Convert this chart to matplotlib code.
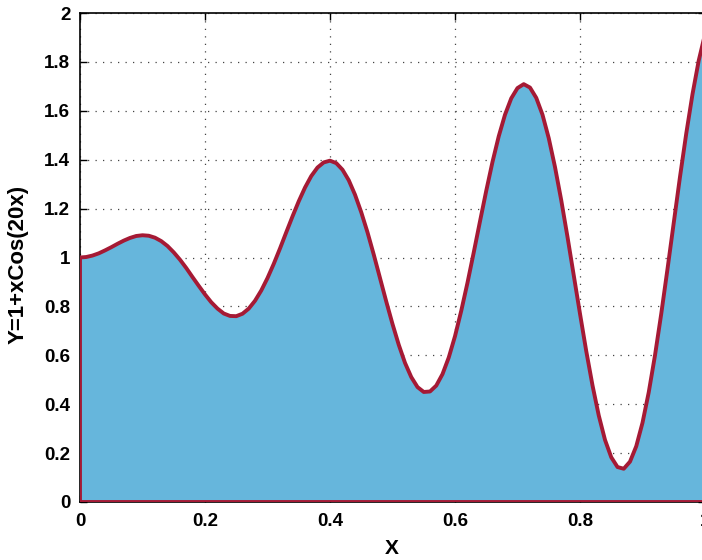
import matplotlib
matplotlib.use("Agg")
import matplotlib.pyplot as plt


# samples, x from 0 to 1
x_vals = [
    0.00, 0.01, 0.02, 0.03, 0.04, 0.05, 0.06, 0.07, 0.08, 0.09,
    0.10, 0.11, 0.12, 0.13, 0.14, 0.15, 0.16, 0.17, 0.18, 0.19,
    0.20, 0.21, 0.22, 0.23, 0.24, 0.25, 0.26, 0.27, 0.28, 0.29,
    0.30, 0.31, 0.32, 0.33, 0.34, 0.35, 0.36, 0.37, 0.38, 0.39,
    0.40, 0.41, 0.42, 0.43, 0.44, 0.45, 0.46, 0.47, 0.48, 0.49,
    0.50, 0.51, 0.52, 0.53, 0.54, 0.55, 0.56, 0.57, 0.58, 0.59,
    0.60, 0.61, 0.62, 0.63, 0.64, 0.65, 0.66, 0.67, 0.68, 0.69,
    0.70, 0.71, 0.72, 0.73, 0.74, 0.75, 0.76, 0.77, 0.78, 0.79,
    0.80, 0.81, 0.82, 0.83, 0.84, 0.85, 0.86, 0.87, 0.88, 0.89,
    0.90, 0.91, 0.92, 0.93, 0.94, 0.95, 0.96, 0.97, 0.98, 0.99,
    1.00,
]
y_vals = [
    1.000, 1.002, 1.008, 1.017, 1.029, 1.042, 1.056, 1.069, 1.080, 1.088,
    1.091, 1.089, 1.081, 1.067, 1.047, 1.021, 0.991, 0.957, 0.920, 0.884,
    0.849, 0.817, 0.791, 0.771, 0.761, 0.760, 0.770, 0.791, 0.823, 0.865,
    0.916, 0.974, 1.037, 1.103, 1.168, 1.230, 1.286, 1.333, 1.368, 1.389,
    1.396, 1.386, 1.359, 1.316, 1.257, 1.185, 1.103, 1.012, 0.916, 0.820,
    0.728, 0.643, 0.569, 0.511, 0.470, 0.450, 0.452, 0.476, 0.523, 0.591,
    0.678, 0.782, 0.897, 1.021, 1.148, 1.273, 1.391, 1.496, 1.584, 1.651,
    1.693, 1.709, 1.695, 1.653, 1.584, 1.488, 1.370, 1.234, 1.084, 0.927,
    0.770, 0.617, 0.477, 0.354, 0.254, 0.183, 0.143, 0.136, 0.165, 0.228,
    0.324, 0.449, 0.600, 0.770, 0.953, 1.142, 1.330, 1.507, 1.668, 1.806,
    1.913,
]
x_ticks = [0, 0.2, 0.4, 0.6, 0.8, 1]
x_labels = ["0", "0.2", "0.4", "0.6", "0.8", "1"]
y_ticks = [0, 0.2, 0.4, 0.6, 0.8, 1, 1.2, 1.4, 1.6, 1.8, 2]
y_labels = ["0", "0.2", "0.4", "0.6", "0.8", "1", "1.2", "1.4", "1.6", "1.8", "2"]

plt.rcParams["font.family"] = ["Liberation Sans", "DejaVu Sans"]
plt.rcParams["font.weight"] = "bold"

fig = plt.figure(figsize=(7.02, 5.6), dpi=100)
ax = fig.add_axes([80 / 702, 58 / 560, 625 / 702, 489 / 560])

# closed area down to the baseline
px = x_vals + [x_vals[-1], x_vals[0]]
py = y_vals + [0, 0]
ax.fill(px, py, facecolor="#66b6dc", edgecolor="#a51a35", linewidth=2.8,
        joinstyle="round", zorder=2)

ax.set_xlim(0, 1)
ax.set_ylim(0, 2)
ax.set_xticks(x_ticks)
ax.set_xticklabels(x_labels)
ax.set_yticks(y_ticks)
ax.set_yticklabels(y_labels)
ax.tick_params(direction="in", top=True, right=True, length=5, width=1,
               labelsize=13.5)
ax.tick_params(axis="x", pad=8)
ax.tick_params(axis="y", pad=7)
ax.grid(True, linestyle=(0, (1, 5)), color="#444444", linewidth=0.9)
ax.set_axisbelow(True)
for s in ax.spines.values():
    s.set_linewidth(1.2)
    s.set_zorder(1)

ax.set_xlabel("X", fontsize=15, fontweight="bold")
ax.set_ylabel("Y=1+xCos(20x)", fontsize=16, fontweight="bold")
ax.xaxis.set_label_coords(0.499, -0.076)
ax.yaxis.set_label_coords(-0.083, 0.485)

fig.savefig("out.png", dpi=100)
